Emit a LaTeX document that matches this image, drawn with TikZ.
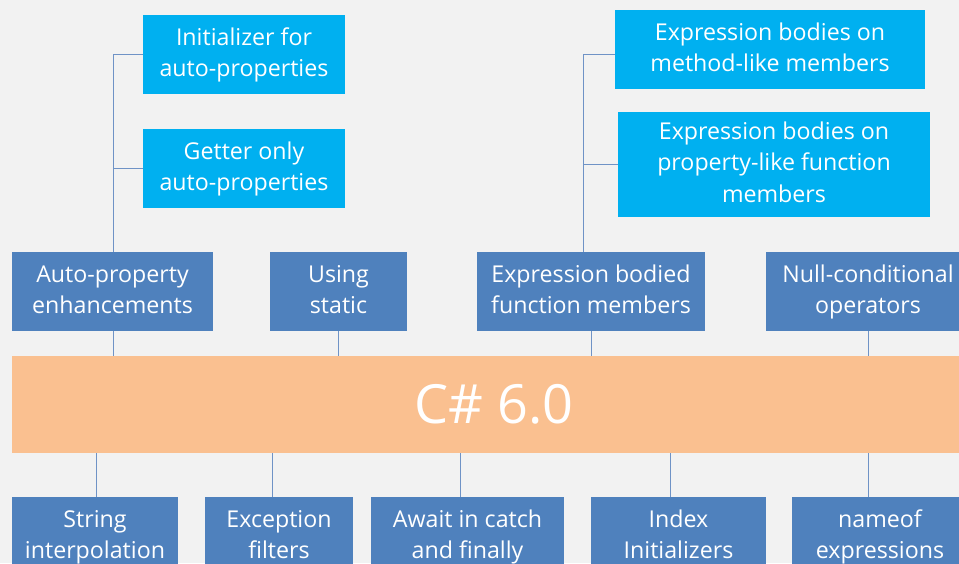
\documentclass[tikz,border=0pt]{standalone}
\usepackage{fontspec}
\setmainfont{Open Sans}
\definecolor{bg}{HTML}{F2F2F2}
\definecolor{lightblue}{HTML}{00B0F0}
\definecolor{darkblue}{HTML}{4F81BD}
\definecolor{peach}{HTML}{FAC090}
\definecolor{linkc}{HTML}{6F93C6}
\tikzset{
  box/.style={rectangle, inner sep=0pt, align=center, text=white,
    font=\fontsize{23.2}{31.5}\selectfont, minimum height=79pt},
  lbox/.style={box, fill=lightblue},
  dbox/.style={box, fill=darkblue},
  link/.style={draw=linkc, line width=1pt}
}
\begin{document}
\begin{tikzpicture}[x=1pt,y=-1pt]
\useasboundingbox (0,0) rectangle (959,563);
\clip (0,0) rectangle (959,563);
\fill[bg] (0,0) rectangle (959,563);

% top level sub-features
\node[lbox, minimum width=202pt] (init) at (244,54.5) {\strut Initializer for\\\strut auto-properties};
\node[lbox, minimum width=202pt] (getter) at (244,168.5) {\strut Getter only\\\strut auto-properties};
\node[lbox, minimum width=310pt] (method) at (770,49.5) {\strut Expression bodies on\\\strut method-like members};
\node[lbox, minimum width=312pt, minimum height=105pt] (propfn) at (774,164.5) {\strut Expression bodies on\\\strut property-like function\\\strut members};

% upper row
\node[dbox, minimum width=201pt] (autoprop) at (112.5,291.5) {\strut Auto-property\\\strut enhancements};
\node[dbox, minimum width=137pt] (using) at (338.5,291.5) {\strut Using\\\strut static};
\node[dbox, minimum width=228pt] (exprbod) at (591,291.5) {\strut Expression bodied\\\strut function members};
\node[dbox, minimum width=204pt] (nullc) at (868,291.5) {\strut Null-conditional\\\strut operators};

% central bar
\node[rectangle, fill=peach, minimum width=964pt, minimum height=97pt, inner sep=0pt,
  text=white, font=\fontsize{54}{60}\selectfont] (csharp) at (494,404.5) {C\# 6.0};

% lower row
\node[dbox, minimum width=166pt] (string) at (95,536.5) {\strut String\\\strut interpolation};
\node[dbox, minimum width=148pt] (except) at (279,536.5) {\strut Exception\\\strut filters};
\node[dbox, minimum width=193pt] (await) at (467.5,536.5) {\strut Await in catch\\\strut and finally};
\node[dbox, minimum width=175pt] (index) at (678.5,536.5) {\strut Index\\\strut Initializers};
\node[dbox, minimum width=176pt] (nameof) at (880,536.5) {\strut nameof\\\strut expressions};

% connectors
\draw[link] ([xshift=0.5pt]autoprop.north) |- (init.west);
\draw[link] ([xshift=0.5pt]autoprop.north |- getter.west) -- (getter.west);
\draw[link] ([xshift=-8pt]exprbod.north) |- ([yshift=-4.5pt]method.west);
\draw[link] ([xshift=-8pt]exprbod.north |- propfn.west) -- (propfn.west);

\draw[link] ([xshift=0.5pt]autoprop.south) -- ([xshift=0.5pt]autoprop.south |- csharp.north);
\draw[link] (using.south) -- (using.south |- csharp.north);
\draw[link] (exprbod.south) -- (exprbod.south |- csharp.north);
\draw[link] (nullc.south) -- (nullc.south |- csharp.north);

\draw[link] ([xshift=1pt]string.north) -- ([xshift=1pt]string.north |- csharp.south);
\draw[link] ([xshift=-7pt]except.north) -- ([xshift=-7pt]except.north |- csharp.south);
\draw[link] ([xshift=-7.5pt]await.north) -- ([xshift=-7.5pt]await.north |- csharp.south);
\draw[link] ([xshift=-8.5pt]index.north) -- ([xshift=-8.5pt]index.north |- csharp.south);
\draw[link] ([xshift=-12pt]nameof.north) -- ([xshift=-12pt]nameof.north |- csharp.south);
\end{tikzpicture}
\end{document}
